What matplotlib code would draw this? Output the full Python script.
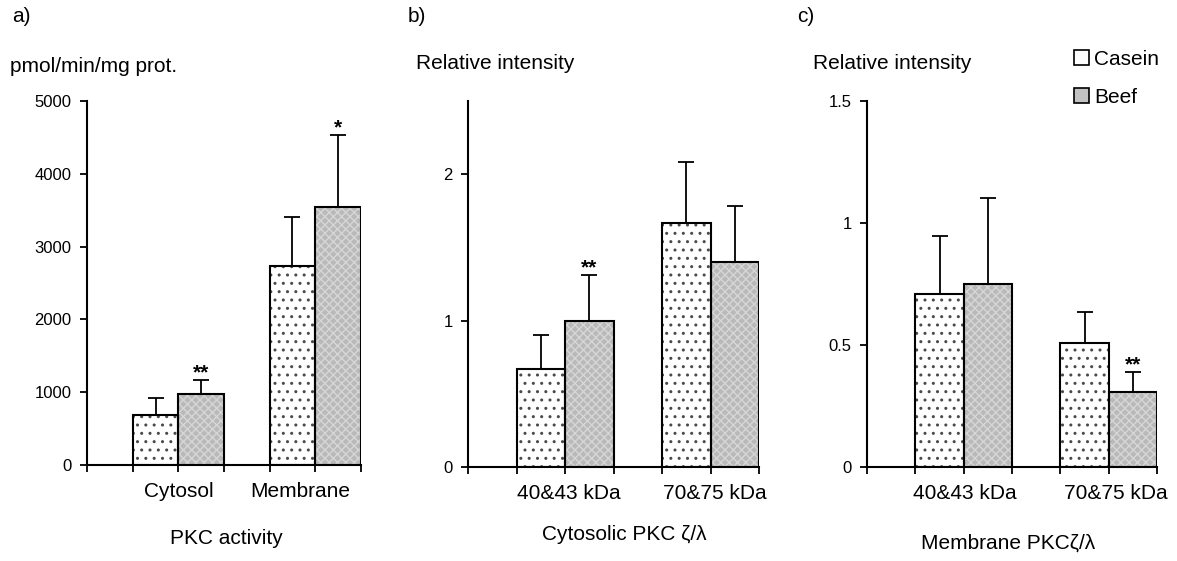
import matplotlib
matplotlib.use("Agg")
import matplotlib.pyplot as plt
from matplotlib.patches import Patch

plt.rcParams['font.family'] = ['Liberation Sans', 'DejaVu Sans']
plt.rcParams['hatch.linewidth'] = 1.0

W, H = 1177, 561

# data (Casein / Beef, mean and upper SD)
pkc_groups = ['Cytosol', 'Membrane']
pkc_casein = [690, 2740]
pkc_casein_err = [235, 660]
pkc_beef = [980, 3545]
pkc_beef_err = [190, 985]
pkc_stars = ['**', '*']

cyt_groups = ['40&43 kDa', '70&75 kDa']
cyt_casein = [0.67, 1.665]
cyt_casein_err = [0.23, 0.415]
cyt_beef = [1.00, 1.40]
cyt_beef_err = [0.31, 0.38]
cyt_stars = ['**', '']

mem_groups = ['40&43 kDa', '70&75 kDa']
mem_casein = [0.708, 0.51]
mem_casein_err = [0.24, 0.125]
mem_beef = [0.752, 0.306]
mem_beef_err = [0.35, 0.085]
mem_stars = ['', '**']

fig = plt.figure(figsize=(W / 100, H / 100), dpi=100)


def px_axes(x0, x1, ytop, ybot):
    return fig.add_axes([x0 / W, 1 - ybot / H, (x1 - x0) / W, (ybot - ytop) / H])


def draw_panel(ax, casein, casein_err, beef, beef_err, stars, ymax, yticks, labels, label_pos):
    cas_x = [1.5, 4.5]
    beef_x = [2.5, 5.5]
    # textured fills
    ax.bar(cas_x, casein, width=1.0, color='white', edgecolor='#4a4a4a',
           hatch='..', linewidth=0, zorder=2)
    ax.bar(beef_x, beef, width=1.0, color='#b9b9b9', edgecolor='#d6d6d6',
           hatch='xxxx', linewidth=0, zorder=2)
    # outlines
    ax.bar(cas_x + beef_x, casein + beef, width=1.0, fill=False,
           edgecolor='black', linewidth=1.5, zorder=3)
    ax.errorbar(cas_x, casein, yerr=[[0, 0], casein_err], fmt='none',
                ecolor='black', elinewidth=1.3, capsize=6, capthick=1.3, zorder=1)
    ax.errorbar(beef_x, beef, yerr=[[0, 0], beef_err], fmt='none',
                ecolor='black', elinewidth=1.3, capsize=6, capthick=1.3, zorder=1)
    for x, v, e, s in zip(beef_x, beef, beef_err, stars):
        if s:
            ax.annotate(s, xy=(x, v + e), xytext=(0, 1), textcoords='offset points',
                        ha='center', va='baseline', fontsize=15, fontweight='bold')
    # category names under the axis
    for lab, pos in zip(labels, label_pos):
        ax.annotate(lab, xy=(pos, 0), xycoords=('data', 'axes fraction'),
                    xytext=(0, -12), textcoords='offset points',
                    ha='center', va='top', fontsize=15)
    ax.set_xlim(0, 6)
    ax.set_ylim(0, ymax)
    ax.set_yticks(yticks)
    ax.set_yticklabels([f'{t:g}' for t in yticks])
    ax.set_xticks(range(7))
    ax.set_xticklabels([])
    ax.tick_params(axis='x', direction='out', length=5, width=1.3)
    ax.tick_params(axis='y', direction='out', length=5, width=1.3, labelsize=12, pad=6)
    for s in ['top', 'right']:
        ax.spines[s].set_visible(False)
    for s in ['left', 'bottom']:
        ax.spines[s].set_linewidth(1.5)


ax_a = px_axes(87, 361, 101, 465)
draw_panel(ax_a, pkc_casein, pkc_casein_err, pkc_beef, pkc_beef_err, pkc_stars,
           5000, [0, 1000, 2000, 3000, 4000, 5000], pkc_groups, [2.0, 4.66])

ax_b = px_axes(468, 759, 101, 467)
draw_panel(ax_b, cyt_casein, cyt_casein_err, cyt_beef, cyt_beef_err, cyt_stars,
           2.5, [0, 1, 2], cyt_groups, [2.08, 5.09])

ax_c = px_axes(867, 1157, 101, 467)
draw_panel(ax_c, mem_casein, mem_casein_err, mem_beef, mem_beef_err, mem_stars,
           1.5, [0, 0.5, 1, 1.5], mem_groups, [2.03, 5.15])


def ftext(x, y, s, **kw):
    fig.text(x / W, 1 - y / H, s, fontsize=15, va='center', **kw)


ftext(12, 16, 'a)')
ftext(408, 16, 'b)')
ftext(797, 16, 'c)')
ftext(10, 66, 'pmol/min/mg prot.')
ftext(416, 64, 'Relative intensity')
ftext(813, 64, 'Relative intensity')
ftext(226, 538, 'PKC activity', ha='center')
ftext(624, 535, 'Cytosolic PKC ζ/λ', ha='center')
ftext(1008, 543, 'Membrane PKCζ/λ', ha='center')

handles = [Patch(facecolor='white', edgecolor='black', linewidth=1.2),
           Patch(facecolor='#c2c2c2', edgecolor='black', linewidth=1.2)]
fig.legend(handles, ['Casein', 'Beef'], loc='upper left',
           bbox_to_anchor=(1074 / W, 1 - 50 / H), frameon=False, fontsize=15,
           handlelength=0.7, handleheight=0.7, handletextpad=0.25, labelspacing=0.9,
           borderpad=0, borderaxespad=0)

fig.savefig('out.png', dpi=100)
